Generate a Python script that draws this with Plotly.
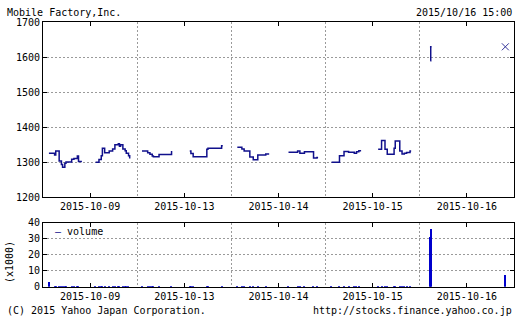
import plotly.graph_objects as go

# ---- data -------------------------------------------------------------
days = ["2015-10-09", "2015-10-13", "2015-10-14", "2015-10-15", "2015-10-16"]

# minutes after 09:00 and price, per session (step line)
d1_am_t = [5, 30, 35, 50, 60, 65, 75, 80, 105, 115, 130, 135, 150]
d1_am_p = [1326, 1321, 1332, 1304, 1294, 1286, 1297, 1301, 1309, 1311, 1318, 1302, 1302]
d1_pm_t = [210, 225, 235, 240, 250, 270, 285, 295, 310, 315, 320, 330, 340, 345, 355, 360]
d1_pm_p = [1300, 1308, 1319, 1340, 1327, 1332, 1338, 1350, 1353, 1346, 1350, 1338, 1333, 1326, 1319, 1311]

d2_am_t = [0, 25, 35, 45, 50, 75, 130]
d2_am_p = [1332, 1327, 1323, 1318, 1316, 1322, 1332]
d2_pm_t = [210, 215, 225, 285, 290, 350, 355]
d2_pm_p = [1332, 1325, 1316, 1337, 1340, 1347, 1347]

d3_am_t = [5, 25, 35, 60, 75, 95, 130, 145]
d3_am_p = [1343, 1338, 1332, 1315, 1307, 1321, 1324, 1324]
d3_pm_t = [230, 270, 280, 300, 340, 355, 360]
d3_pm_p = [1329, 1332, 1326, 1330, 1312, 1314, 1314]

d4_am_t = [5, 40, 60, 80, 105, 115, 125, 135]
d4_am_p = [1300, 1319, 1331, 1329, 1326, 1330, 1333, 1333]
d4_pm_t = [210, 225, 240, 250, 280, 285, 305, 315, 325, 335, 350, 355]
d4_pm_p = [1337, 1362, 1337, 1323, 1340, 1361, 1332, 1324, 1326, 1328, 1332, 1332]

d5_am_t = [25, 27, 31]
d5_am_p = [1590, 1630, 1630]

close_day = 4
close_t = 355
close_p = 1630

# volume (x1000 shares)
v1_t = [5, 30, 35, 50, 60, 65, 75, 80, 105, 115, 130, 135, 210, 225, 235, 240, 250, 270, 285, 295, 310, 315, 330, 340, 345, 355]
v1_v = [3.0, 0.5, 0.6, 0.7, 0.5, 0.6, 0.4, 0.3, 0.4, 0.3, 0.5, 0.4, 0.3, 0.5, 0.6, 0.7, 0.4, 0.5, 0.5, 0.8, 0.6, 0.5, 0.4, 0.4, 0.5, 0.6]
v2_t = [0, 25, 35, 45, 50, 75, 130, 210, 215, 225, 285, 290, 350]
v2_v = [0.5, 0.3, 0.3, 0.4, 0.3, 0.3, 0.4, 0.3, 0.3, 0.4, 0.5, 0.4, 0.6]
v3_t = [5, 25, 35, 60, 75, 95, 130, 230, 270, 280, 300, 340, 355]
v3_v = [0.5, 0.3, 0.4, 0.5, 0.4, 0.3, 0.3, 0.4, 0.3, 0.3, 0.3, 0.6, 0.4]
v4_t = [5, 40, 60, 80, 105, 115, 125, 210, 225, 240, 250, 280, 285, 305, 315, 325, 335, 350]
v4_v = [0.8, 0.6, 0.5, 0.3, 0.4, 0.3, 0.4, 0.5, 0.7, 0.6, 0.8, 0.4, 0.6, 0.5, 0.4, 0.4, 0.4, 0.3]
v5_t = [23, 27, 355]
v5_v = [31.5, 36.0, 7.9]

# ---- layout helpers ---------------------------------------------------
DAY = 414      # axis units per trading day slot
OFF = 21       # 09:00 offset inside a slot

def X(d, t):
    return d * DAY + OFF + t

sessions = [
    (0, d1_am_t, d1_am_p), (0, d1_pm_t, d1_pm_p),
    (1, d2_am_t, d2_am_p), (1, d2_pm_t, d2_pm_p),
    (2, d3_am_t, d3_am_p), (2, d3_pm_t, d3_pm_p),
    (3, d4_am_t, d4_am_p), (3, d4_pm_t, d4_pm_p),
    (4, d5_am_t, d5_am_p),
]
px, py = [], []
for d, ts, ps in sessions:
    px += [X(d, t) for t in ts] + [None]
    py += list(ps) + [None]

vols = [(0, v1_t, v1_v), (1, v2_t, v2_v), (2, v3_t, v3_v), (3, v4_t, v4_v), (4, v5_t, v5_v)]
vx, vy = [], []
for d, ts, vs in vols:
    vx += [X(d, t) for t in ts]
    vy += list(vs)

W, H = 520, 322
FONT = "DejaVu Sans Mono"
NAVY = "#10108c"
GRID = "#9a9a9a"

fig = go.Figure()
fig.add_trace(go.Scatter(x=px, y=py, mode="lines", line=dict(color=NAVY, width=1.5, shape="hv"),
                         connectgaps=False, showlegend=False, xaxis="x", yaxis="y"))
fig.add_trace(go.Scatter(x=[X(close_day, close_t)], y=[close_p], mode="markers",
                         marker=dict(symbol="x-thin", size=7, line=dict(color="#333399", width=1)),
                         showlegend=False, xaxis="x", yaxis="y"))
fig.add_trace(go.Bar(x=vx, y=vy, width=5, marker=dict(color="#0000cc", line=dict(width=0)),
                     showlegend=False, xaxis="x2", yaxis="y2"))

centers = [d * DAY + DAY / 2 for d in range(len(days))]
bounds = [d * DAY for d in range(1, len(days))]

def xax(anchor):
    return dict(range=[0, DAY * len(days)], domain=[43 / W, 514 / W], anchor=anchor,
                tickmode="array", tickvals=centers, ticktext=days,
                ticks="inside", ticklen=4, tickcolor="black", showgrid=False,
                minor=dict(tickmode="array", tickvals=bounds, showgrid=True, gridcolor=GRID,
                           griddash="2px,2px", gridwidth=1, ticks=""),
                showline=True, linecolor="black", linewidth=1, mirror="ticks",
                zeroline=False, tickfont=dict(family=FONT, size=10, color="black"),
                automargin=False, fixedrange=True)

def yax(anchor, rng, dtick, dom):
    return dict(range=rng, dtick=dtick, tick0=0, domain=dom, anchor=anchor,
                ticks="inside", ticklen=4, tickcolor="black",
                showgrid=True, gridcolor=GRID, griddash="2px,2px", gridwidth=1,
                showline=True, linecolor="black", linewidth=1, mirror="ticks",
                zeroline=False, tickfont=dict(family=FONT, size=10, color="black"),
                automargin=False, fixedrange=True)

fig.update_layout(
    width=W, height=H, margin=dict(l=0, r=0, t=0, b=0, pad=0, autoexpand=False),
    paper_bgcolor="white", plot_bgcolor="white",
    xaxis=xax("y"), xaxis2=xax("y2"),
    yaxis=yax("x", [1200, 1700], 100, [1 - 197.3 / H, 1 - 22.3 / H]),
    yaxis2=yax("x2", [0, 40], 10, [1 - 286.7 / H, 1 - 222.5 / H]),
    bargap=0, showlegend=False,
    font=dict(family=FONT, size=10, color="black"),
)

def ann(text, x, y, xanchor="left", yanchor="middle", angle=0):
    fig.add_annotation(text=text, x=x / W, y=1 - y / H, xref="paper", yref="paper",
                       xanchor=xanchor, yanchor=yanchor, showarrow=False, textangle=angle,
                       font=dict(family=FONT, size=10, color="black"))

ann("Mobile Factory,Inc.", 5, 12.5)
ann("2015/10/16 15:00", 514, 12.5, xanchor="right")
ann("(C) 2015 Yahoo Japan Corporation.", 5, 310)
ann("http://stocks.finance.yahoo.co.jp", 514, 310, xanchor="right")
ann("(x1000)", 9, 262, xanchor="center", angle=-90)
ann('<span style="color:#10108c">\u2013</span> volume', 53, 231)

fig.write_html("out.html")
